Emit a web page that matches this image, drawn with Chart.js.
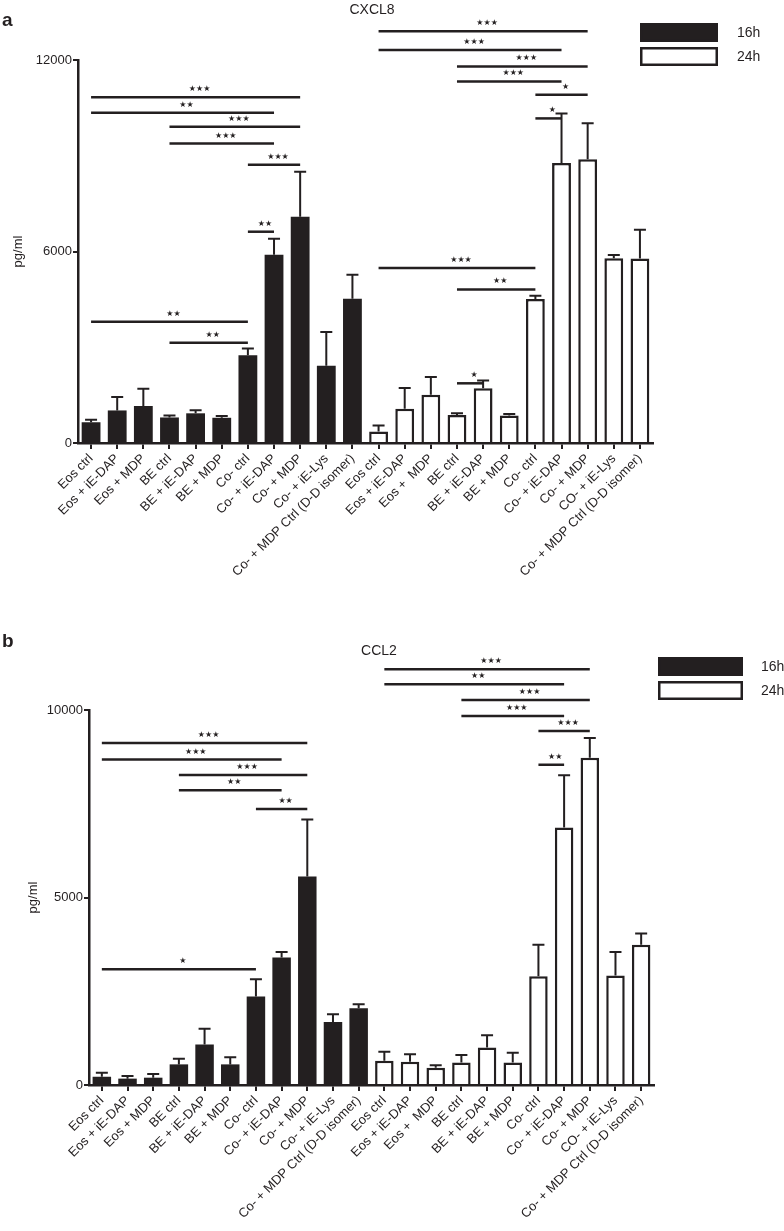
<!DOCTYPE html>
<html>
<head>
<meta charset="utf-8">
<script src="https://cdn.jsdelivr.net/npm/chart.js@4"></script>
<style>
  body { margin: 0; background: #fff; }
  .panel { position: absolute; left: 0; }
  #pa { top: 0; }
  #pb { top: 600px; }
</style>
</head>
<body>
<div class="panel" id="pa"><canvas id="cxcl8" width="784" height="600"></canvas></div>
<div class="panel" id="pb"><canvas id="ccl2" width="784" height="631"></canvas></div>
<script>
// categories (16h group, then 24h group as labelled in the figure)
const cond16 = ['Eos ctrl', 'Eos + iE-DAP', 'Eos + MDP', 'BE ctrl', 'BE + iE-DAP', 'BE + MDP',
  'Co- ctrl', 'Co- + iE-DAP', 'Co- + MDP', 'Co- + iE-Lys', 'Co- + MDP Ctrl (D-D isomer)']
const cond24 = ['Eos ctrl', 'Eos + iE-DAP', 'Eos +  MDP', 'BE ctrl', 'BE + iE-DAP', 'BE + MDP',
  'Co- ctrl', 'Co- + iE-DAP', 'Co- + MDP', 'CO- + iE-Lys', 'Co- + MDP Ctrl (D-D isomer)']

// CXCL8 (pg/ml)
const cxcl8_16h = [650, 1020, 1160, 800, 930, 790, 2750, 5900, 7090, 2420, 4520]
const cxcl8_16h_err = [80, 420, 540, 60, 100, 55, 210, 500, 1410, 1060, 750]
const cxcl8_24h = [360, 1070, 1510, 880, 1715, 860, 4510, 8770, 8890, 5790, 5780]
const cxcl8_24h_err = [190, 650, 560, 50, 240, 50, 100, 1550, 1130, 100, 900]
const cxcl8_ticks = [0, 6000, 12000]
// [from category, to category, height in pg/ml, stars]
const cxcl8_sig = [
  [0, 8, 10830, '***'], [0, 7, 10350, '**'], [3, 8, 9910, '***'], [3, 7, 9380, '***'],
  [6, 8, 8720, '***'], [6, 7, 6620, '**'], [0, 6, 3800, '**'], [3, 6, 3140, '**'],
  [11, 19, 12900, '***'], [11, 18, 12310, '***'], [14, 19, 11800, '***'], [14, 18, 11330, '***'],
  [17, 19, 10910, '*'], [17, 18, 10170, '*'], [11, 17, 5480, '***'], [14, 17, 4810, '**'], [14, 15, 1870, '*']
]

// CCL2 (pg/ml)
const ccl2_16h = [220, 170, 195, 550, 1080, 550, 2360, 3400, 5560, 1680, 2045]
const ccl2_16h_err = [110, 70, 100, 150, 420, 190, 460, 150, 1520, 210, 110]
const ccl2_24h = [650, 620, 460, 600, 1000, 600, 2900, 6870, 8730, 2920, 3740]
const ccl2_24h_err = [240, 200, 70, 200, 330, 260, 840, 1390, 525, 630, 300]
const ccl2_ticks = [0, 5000, 10000]
const ccl2_sig = [
  [0, 8, 9120, '***'], [0, 7, 8680, '***'], [3, 8, 8270, '***'], [3, 7, 7860, '**'],
  [6, 8, 7360, '**'], [0, 6, 3090, '*'],
  [11, 19, 11090, '***'], [11, 18, 10690, '**'], [14, 19, 10270, '***'], [14, 18, 9840, '***'],
  [17, 19, 9440, '***'], [17, 18, 8540, '**']
]

const ink = '#231f20'
const FONT = "'Liberation Sans', Arial, Helvetica, sans-serif"
Chart.defaults.font.family = FONT
Chart.defaults.color = ink

// error bars, significance bars, title, panel letter and legend
const extras = {
  id: 'extras',
  afterDatasetsDraw(chart, args, o) {
    const ctx = chart.ctx
    const xs = chart.scales.x, ys = chart.scales.y
    ctx.save()
    ctx.strokeStyle = ink
    ctx.lineWidth = 2
    chart.data.datasets.forEach((ds, di) => {
      chart.getDatasetMeta(di).data.forEach((bar, i) => {
        if (ds.data[i] == null) return
        const top = ys.getPixelForValue(ds.data[i] + ds.err[i])
        ctx.beginPath()
        ctx.moveTo(bar.x, bar.y)
        ctx.lineTo(bar.x, top)
        ctx.moveTo(bar.x - 6, top)
        ctx.lineTo(bar.x + 6, top)
        ctx.stroke()
      })
    })
    ctx.lineWidth = 2.5
    ctx.fillStyle = ink
    ctx.textAlign = 'center'
    ctx.textBaseline = 'alphabetic'
    ctx.font = "8px 'DejaVu Sans'"
    o.sig.forEach(s => {
      const x1 = xs.getPixelForValue(s[0]), x2 = xs.getPixelForValue(s[1])
      const yy = ys.getPixelForValue(s[2])
      ctx.beginPath()
      ctx.moveTo(x1, yy)
      ctx.lineTo(x2, yy)
      ctx.stroke()
      ctx.fillText(s[3].replace(/\*/g, '\u2605'), (x1 + x2) / 2 + 4, yy - 6)
    })
    // title and panel letter
    ctx.textAlign = 'center'
    ctx.textBaseline = 'middle'
    ctx.font = '14px ' + FONT
    ctx.fillText(o.title, o.titleX, o.titleY)
    ctx.textAlign = 'left'
    ctx.textBaseline = 'alphabetic'
    ctx.font = 'bold 19px ' + FONT
    ctx.fillText(o.letter, 2, o.letterY)
    // legend
    ctx.font = '14px ' + FONT
    ctx.textBaseline = 'middle'
    chart.data.datasets.forEach((ds, di) => {
      const by = o.legY[di]
      ctx.fillStyle = ds.backgroundColor
      ctx.fillRect(o.legX, by, o.legW, o.legH)
      ctx.lineWidth = 2.5
      ctx.strokeStyle = ink
      ctx.strokeRect(o.legX + 1.25, by + 1.25, o.legW - 2.5, o.legH - 2.5)
      ctx.fillStyle = ink
      ctx.fillText(ds.label, o.legTextX, by + o.legH / 2 + 1)
    })
    ctx.restore()
  }
}

function makePanel(id, p) {
  const nulls = cond16.map(() => null)
  new Chart(document.getElementById(id), {
    type: 'bar',
    data: {
      labels: cond16.concat(cond24),
      datasets: [
        { label: '16h', data: p.v16.concat(nulls), err: p.e16.concat(nulls),
          backgroundColor: ink, borderColor: ink, borderWidth: 0 },
        { label: '24h', data: nulls.concat(p.v24), err: nulls.concat(p.e24),
          backgroundColor: '#ffffff', borderColor: ink, borderWidth: 2.5 }
      ]
    },
    options: {
      responsive: false,
      animation: false,
      layout: { padding: { top: p.padTop, right: p.padRight, left: 0, bottom: 0 } },
      datasets: { bar: { grouped: false, categoryPercentage: 1, barPercentage: 0.72 } },
      plugins: {
        legend: { display: false },
        tooltip: { enabled: false },
        extras: p.extras
      },
      scales: {
        x: {
          afterFit: s => { s.height = p.xAxisH },
          grid: { offset: false, drawOnChartArea: false, tickLength: 6, lineWidth: 2, color: ink },
          border: { color: ink, width: 2.5 },
          ticks: { autoSkip: false, maxRotation: 45, minRotation: 45, padding: 2, font: { size: 13 }, color: ink }
        },
        y: {
          min: 0, max: p.ticks[p.ticks.length - 1],
          afterFit: s => { s.width = p.yAxisW },
          afterBuildTicks: s => { s.ticks = p.ticks.map(v => ({ value: v })) },
          grid: { drawOnChartArea: false, tickLength: 5, lineWidth: 2, color: ink },
          border: { color: ink, width: 2.5 },
          ticks: { padding: 1, font: { size: 13 }, color: ink, callback: v => String(v) },
          title: { display: true, text: 'pg/ml', font: { size: 13 }, color: ink, padding: { top: p.yTitlePad, bottom: 0 } }
        }
      }
    },
    plugins: [extras]
  })
}

makePanel('cxcl8', {
  v16: cxcl8_16h, e16: cxcl8_16h_err, v24: cxcl8_24h, e24: cxcl8_24h_err, ticks: cxcl8_ticks,
  padTop: 60, padRight: 131, xAxisH: 157, yAxisW: 78, yTitlePad: 11,
  extras: { sig: cxcl8_sig, title: 'CXCL8', titleX: 372, titleY: 10, letter: 'a', letterY: 26,
    legX: 640, legY: [23, 47], legW: 78, legH: 19, legTextX: 737 }
})

makePanel('ccl2', {
  v16: ccl2_16h, e16: ccl2_16h_err, v24: ccl2_24h, e24: ccl2_24h_err, ticks: ccl2_ticks,
  padTop: 110, padRight: 130, xAxisH: 146, yAxisW: 89, yTitlePad: 26,
  extras: { sig: ccl2_sig, title: 'CCL2', titleX: 379, titleY: 51, letter: 'b', letterY: 47,
    legX: 658, legY: [57, 81], legW: 85, legH: 19, legTextX: 761 }
})
</script>
</body>
</html>
